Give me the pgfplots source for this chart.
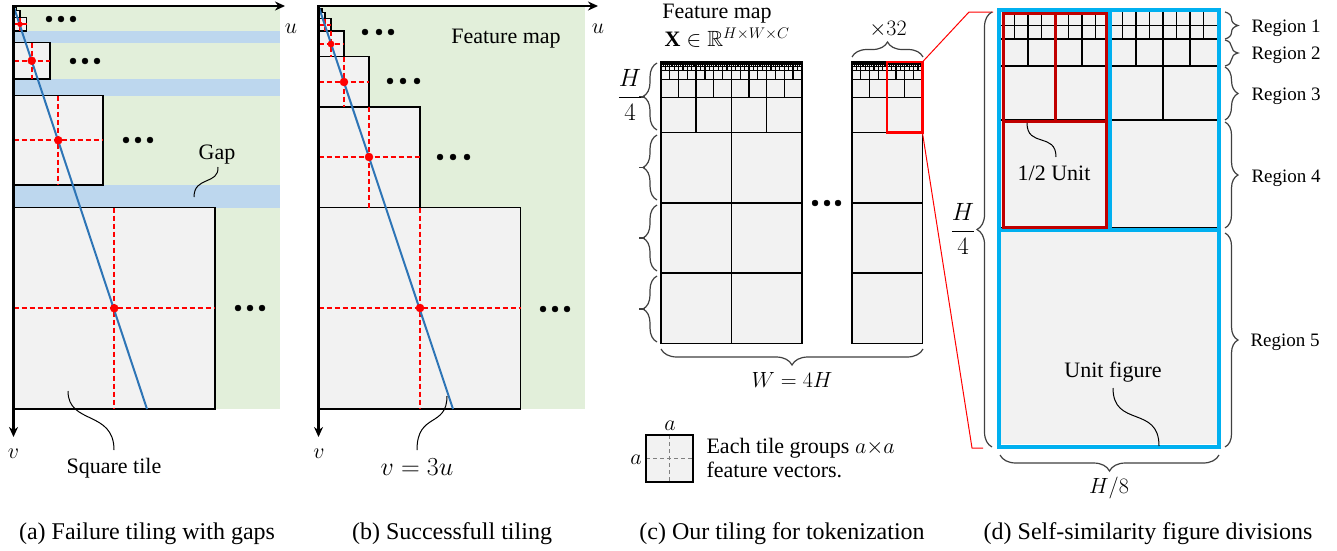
\RequirePackage{fix-cm}
\documentclass[border=0pt]{standalone}
\usepackage{pgfplots}
\pgfplotsset{compat=1.18}
\usepackage{amsmath,amssymb}
\usepackage{fontspec}
\setmainfont{Liberation Serif}
\usetikzlibrary{decorations.pathreplacing,arrows.meta}

\definecolor{fgreen}{HTML}{E2EFDA}
\definecolor{fblue}{HTML}{BDD7EE}
\definecolor{tgray}{HTML}{F2F2F2}
\definecolor{lblue}{HTML}{2E75B6}
\definecolor{cyanb}{HTML}{00B0F0}
\definecolor{dred}{HTML}{C00000}
\definecolor{bgray}{HTML}{404040}

\newcommand\fs{\fontsize{22}{26}\selectfont}
\newcommand\fm{\fontsize{25}{29}\selectfont}
\newcommand\fr{\fontsize{19}{22}\selectfont}
\newcommand\fc{\fontsize{24}{28}\selectfont}

\tikzset{
  tile/.style={fill=tgray,draw=black,line width=1.5pt},
  tfill/.style={fill=tgray,draw=none},
  tline/.style={draw=black,line width=1.5pt},
  rdash/.style={red,line width=1.6pt,dash pattern=on 5pt off 3pt},
  brc/.style={bgray,line width=1.2pt,decorate},
  conn/.style={black,line width=1pt},
}

\newcommand\rect[5]{\addplot[#1,forget plot] coordinates {(#2,#3) (#4,#3) (#4,#5) (#2,#5)} -- cycle;}

% ---- grid segments of the self-similar unit figure ----
\def\segs{}
\newcommand\addseg[4]{\xdef\segs{\segs (#1,#2) (#3,#4) (nan,nan)}}
\newcommand\unitfig[3]{%
  \pgfmathsetmacro\ux{#1}\pgfmathsetmacro\uy{#2}\pgfmathsetmacro\uu{#3}%
  \pgfmathsetmacro\xe{\ux+\uu}%
  \foreach \qq in {0.0625,0.125,0.25,0.5,1}{%
    \pgfmathsetmacro\yy{\uy+\qq*\uu}%
    \addseg{\ux}{\yy}{\xe}{\yy}}%
  \foreach \kk in {1,...,15}{%
    \pgfmathsetmacro\xx{\ux+\kk*\uu/16}%
    \pgfmathsetmacro\ff{ifthenelse(mod(\kk,8)==0,1,ifthenelse(mod(\kk,4)==0,0.5,ifthenelse(mod(\kk,2)==0,0.25,0.125)))}%
    \pgfmathsetmacro\yy{\uy+\ff*\uu}%
    \addseg{\xx}{\uy}{\xx}{\yy}}%
}
\unitfig{661}{62}{35.2}
\unitfig{696.2}{62}{35.2}
\unitfig{731.4}{62}{35.2}
\unitfig{766.6}{62}{35.2}
\unitfig{852}{62}{35.2}
\unitfig{887.2}{62}{35.2}
\global\let\segsC\segs
\gdef\segs{}
\unitfig{1001}{12}{216}
\global\let\segsD\segs

\begin{document}
\begin{tikzpicture}
\begin{axis}[x=1pt,y=1pt,y dir=reverse,xmin=0,xmax=1337,ymin=0,ymax=550,
  hide axis,clip=false]
% background
\rect{fill=white,draw=none}{0}{0}{1337}{550}

%%%%%%%%%%%%%%%% (a)
\rect{fill=fgreen,draw=none}{13.5}{6}{280}{409}
\rect{fill=fblue,draw=none}{13.5}{31}{280}{42.5}
\rect{fill=fblue,draw=none}{13.5}{79}{280}{95.5}
\rect{fill=fblue,draw=none}{13.5}{185}{280}{207.5}
\rect{tfill}{13.5}{7}{16.5}{10.5}
\rect{tfill}{13.5}{10.5}{20}{17.5}
\rect{tfill}{13.5}{17.5}{26.5}{31}
\rect{tfill}{13.5}{42.5}{50}{79}
\rect{tfill}{13.5}{95.5}{103}{185}
\rect{tfill}{13.5}{207.5}{215}{409}
\rect{tline}{13.5}{7}{16.5}{10.5}
\rect{tline}{13.5}{10.5}{20}{17.5}
\rect{tline}{13.5}{17.5}{26.5}{31}
\rect{tline}{13.5}{42.5}{50}{79}
\rect{tline}{13.5}{95.5}{103}{185}
\rect{tline}{13.5}{207.5}{215}{409}
\addplot[rdash,unbounded coords=jump,forget plot] coordinates {
 (13.5,24.25) (26.5,24.25) (nan,nan) (20,17.5) (20,31) (nan,nan)
 (13.5,60.75) (50,60.75) (nan,nan) (31.75,42.5) (31.75,79) (nan,nan)
 (13.5,140.25) (103,140.25) (nan,nan) (58.25,95.5) (58.25,185) (nan,nan)
 (13.5,308.25) (215,308.25) (nan,nan) (114.25,207.5) (114.25,409)};
\addplot[only marks,mark=*,red,mark size=2.5pt,forget plot] coordinates {(20,24.25)};
\addplot[only marks,mark=*,red,mark size=4pt,forget plot] coordinates {(31.75,60.75) (58.25,140.25) (114.25,308.25)};
\addplot[lblue,line width=2pt,forget plot] coordinates {(13.5,6) (147,409)};
\addplot[only marks,mark=*,black,mark size=3pt,forget plot] coordinates {
 (49,19) (61,19) (73,19) (73,61) (85,61) (97,61)
 (126,140) (138,140) (150,140) (238,308) (250,308) (262,308)};
\addplot[black,line width=2.5pt,{Stealth[length=10pt,width=9pt]}-{Stealth[length=10pt,width=9pt]},forget plot]
 coordinates {(285,6) (13.5,6) (13.5,437)};
\node[font=\fs,anchor=base] at (291,33) {$u$};
\node[font=\fs,anchor=base] at (13.5,458) {$v$};
\node[font=\fs,anchor=base] at (217,159) {Gap};
\draw[conn] (218,167) .. controls (219,185) and (194,176) .. (194,197);
\node[font=\fs,anchor=base] at (114,473) {Square tile};
\draw[conn] (68,391) .. controls (68,425) and (114,410) .. (114,450);
\node[font=\fc,anchor=base] at (147,539) {(a) Failure tiling with gaps};

%%%%%%%%%%%%%%%% (b)
\rect{fill=fgreen,draw=none}{318.5}{6}{585}{409}
\rect{tfill}{318.5}{207.5}{520.5}{409}
\rect{tfill}{318.5}{107}{420}{207.5}
\rect{tfill}{318.5}{56.5}{369}{107}
\rect{tfill}{318.5}{31}{344}{56.5}
\rect{tfill}{318.5}{18.5}{331}{31}
\rect{tfill}{318.5}{12.5}{325}{18.5}
\rect{tfill}{318.5}{9}{322}{12.5}
\rect{tline}{318.5}{207.5}{520.5}{409}
\rect{tline}{318.5}{107}{420}{207.5}
\rect{tline}{318.5}{56.5}{369}{107}
\rect{tline}{318.5}{31}{344}{56.5}
\rect{tline}{318.5}{18.5}{331}{31}
\rect{tline}{318.5}{12.5}{325}{18.5}
\rect{tline}{318.5}{9}{322}{12.5}
\addplot[rdash,unbounded coords=jump,forget plot] coordinates {
 (318.5,25) (331,25) (nan,nan) (325,18.5) (325,31) (nan,nan)
 (318.5,44) (344,44) (nan,nan) (331,31) (331,56.5) (nan,nan)
 (318.5,82) (369,82) (nan,nan) (344,56.5) (344,107) (nan,nan)
 (318.5,157) (420,157) (nan,nan) (369,107) (369,207.5) (nan,nan)
 (318.5,308) (520.5,308) (nan,nan) (420,207.5) (420,409)};
\addplot[only marks,mark=*,red,mark size=3.2pt,forget plot] coordinates {(331,44)};
\addplot[only marks,mark=*,red,mark size=4pt,forget plot] coordinates {(344,82) (369,157) (420,308)};
\addplot[lblue,line width=2pt,forget plot] coordinates {(318.5,6) (453,409)};
\addplot[only marks,mark=*,black,mark size=3pt,forget plot] coordinates {
 (365,32) (379,32) (391,32) (390,81) (403,81) (417,81)
 (440,157) (453,157) (467,157) (543,309) (555,309) (567,309)};
\addplot[black,line width=2.5pt,{Stealth[length=10pt,width=9pt]}-{Stealth[length=10pt,width=9pt]},forget plot]
 coordinates {(598,6) (318.5,6) (318.5,437)};
\node[font=\fs,anchor=base] at (598,33) {$u$};
\node[font=\fs,anchor=base] at (319,458) {$v$};
\node[font=\fs,anchor=base] at (506,43) {Feature map};
\node[font=\fontsize{26}{30}\selectfont,anchor=base] at (417,475) {$v=3u$};
\draw[conn] (447,396) .. controls (447,428) and (417,412) .. (417,450);
\node[font=\fc,anchor=base] at (452,539) {(b) Successfull tiling};

%%%%%%%%%%%%%%%% (c)
\rect{fill=tgray,draw=none}{661}{62}{801.8}{343.6}
\rect{fill=tgray,draw=none}{852}{62}{922.4}{343.6}
\edef\tmp{\noexpand\addplot[black,line width=1.25pt,unbounded coords=jump,forget plot] coordinates {\segsC};}\tmp
\addplot[black,line width=1.5pt,unbounded coords=jump,forget plot] coordinates {
 (661,132.4) (801.8,132.4) (nan,nan) (661,202.8) (801.8,202.8) (nan,nan)
 (661,273.2) (801.8,273.2) (nan,nan) (731.4,62) (731.4,343.6) (nan,nan)
 (696.2,62) (696.2,132.4) (nan,nan) (766.6,62) (766.6,132.4) (nan,nan)
 (852,132.4) (922.4,132.4) (nan,nan) (852,202.8) (922.4,202.8) (nan,nan)
 (852,273.2) (922.4,273.2) (nan,nan) (887.2,62) (887.2,132.4)};
\addplot[black,line width=2.5pt,unbounded coords=jump,forget plot] coordinates {
 (661,63) (801.8,63) (nan,nan) (852,63) (922.4,63)};
\rect{draw=black,line width=1.5pt}{661}{62}{801.8}{343.6}
\rect{draw=black,line width=1.5pt}{852}{62}{922.4}{343.6}
\rect{draw=red,line width=2.2pt}{887.2}{62}{922.4}{132.4}
\addplot[red,line width=1pt,forget plot] coordinates {(922.4,62) (969,12) (993,12)};
\addplot[red,line width=1pt,forget plot] coordinates {(922.4,132.4) (972,448) (983,448)};
\addplot[only marks,mark=*,black,mark size=3pt,forget plot] coordinates {(815,203) (827,203) (838,203)};
% braces
\draw[brc,decoration={brace,amplitude=14pt}] (657,130) -- (657,63);
\draw[brc,decoration={brace,amplitude=14pt}] (657,200) -- (657,135);
\draw[brc,decoration={brace,amplitude=14pt}] (657,271) -- (657,205);
\draw[brc,decoration={brace,amplitude=14pt}] (657,342) -- (657,276);
\addplot[bgray,line width=1.2pt,unbounded coords=jump,forget plot] coordinates {
 (639,97) (645,97) (nan,nan) (639,167.5) (645,167.5) (nan,nan)
 (639,238) (645,238) (nan,nan) (639,309) (645,309)};
\draw[brc,decoration={brace,amplitude=15pt}] (852,57) -- (923,57);
\draw[brc,decoration={brace,amplitude=16pt}] (923,349) -- (661,349);
\node[font=\fm] at (630,95) {$\dfrac{H}{4}$};
\node[font=\fs,anchor=base] at (717,18) {Feature map};
\node[font=\fs,anchor=base west] at (661,46) {$\mathbf{X}\in\mathbb{R}^{H\times W\times C}$};
\node[font=\fs,anchor=base] at (888,35) {$\times 32$};
\node[font=\fs,anchor=base] at (792,387) {$W=4H$};
% legend
\rect{tile}{646}{435}{693}{482}
\addplot[gray,line width=1.2pt,dash pattern=on 4pt off 3pt,unbounded coords=jump,forget plot] coordinates {
 (646,458.5) (693,458.5) (nan,nan) (669.5,435) (669.5,482)};
\rect{draw=black,line width=1.5pt}{646}{435}{693}{482}
\node[font=\fs,anchor=base] at (670,430) {$a$};
\node[font=\fs,anchor=base] at (636,464) {$a$};
\node[font=\fs,anchor=base west] at (703,453) {Each tile groups $a{\times}a$};
\node[font=\fs,anchor=base west] at (703,477) {feature vectors.};
\node[font=\fc,anchor=base] at (782,539) {(c) Our tiling for tokenization};

%%%%%%%%%%%%%%%% (d)
\rect{fill=tgray,draw=none}{1001}{12}{1217}{444}
\edef\tmp{\noexpand\addplot[black,line width=1.4pt,unbounded coords=jump,forget plot] coordinates {\segsD};}\tmp
\rect{draw=cyanb,line width=4pt}{999}{9.5}{1219}{446.5}
\addplot[cyanb,line width=4pt,unbounded coords=jump,forget plot] coordinates {
 (999,230) (1219,230) (nan,nan) (1109.5,9.5) (1109.5,230)};
\rect{draw=dred,line width=3pt}{1003.5}{13.5}{1106.5}{227}
\addplot[dred,line width=3pt,unbounded coords=jump,forget plot] coordinates {
 (1003.5,121) (1106.5,121) (nan,nan) (1055,13.5) (1055,121)};
\draw[brc,decoration={brace,amplitude=13pt}] (1225,12) -- (1225,39);
\draw[brc,decoration={brace,amplitude=13pt}] (1225,40) -- (1225,66);
\draw[brc,decoration={brace,amplitude=13pt}] (1225,67) -- (1225,120);
\draw[brc,decoration={brace,amplitude=13pt}] (1225,122) -- (1225,228);
\draw[brc,decoration={brace,amplitude=13pt}] (1225,233) -- (1225,447);
\draw[brc,decoration={brace,amplitude=15pt}] (992,447) -- (992,12);
\draw[brc,decoration={brace,amplitude=16pt}] (1219,455) -- (1000,455);
\node[font=\fr,anchor=base west] at (1248,32) {Region 1};
\node[font=\fr,anchor=base west] at (1248,59) {Region 2};
\node[font=\fr,anchor=base west] at (1248,100) {Region 3};
\node[font=\fr,anchor=base west] at (1248,182) {Region 4};
\node[font=\fr,anchor=base west] at (1247,346) {Region 5};
\node[font=\fs,anchor=base] at (1054,180) {1/2 Unit};
\draw[conn] (1027,123) .. controls (1027,148) and (1056,132) .. (1056,157);
\node[font=\fs,anchor=base] at (1113,377) {Unit figure};
\draw[conn] (1113,388) .. controls (1113,428) and (1159,405) .. (1159,446);
\node[font=\fm] at (963,229) {$\dfrac{H}{4}$};
\node[font=\fs,anchor=base] at (1109,493) {$H/8$};
\node[font=\fc,anchor=base] at (1148,539) {(d) Self-similarity figure divisions};
\end{axis}
\end{tikzpicture}
\end{document}
